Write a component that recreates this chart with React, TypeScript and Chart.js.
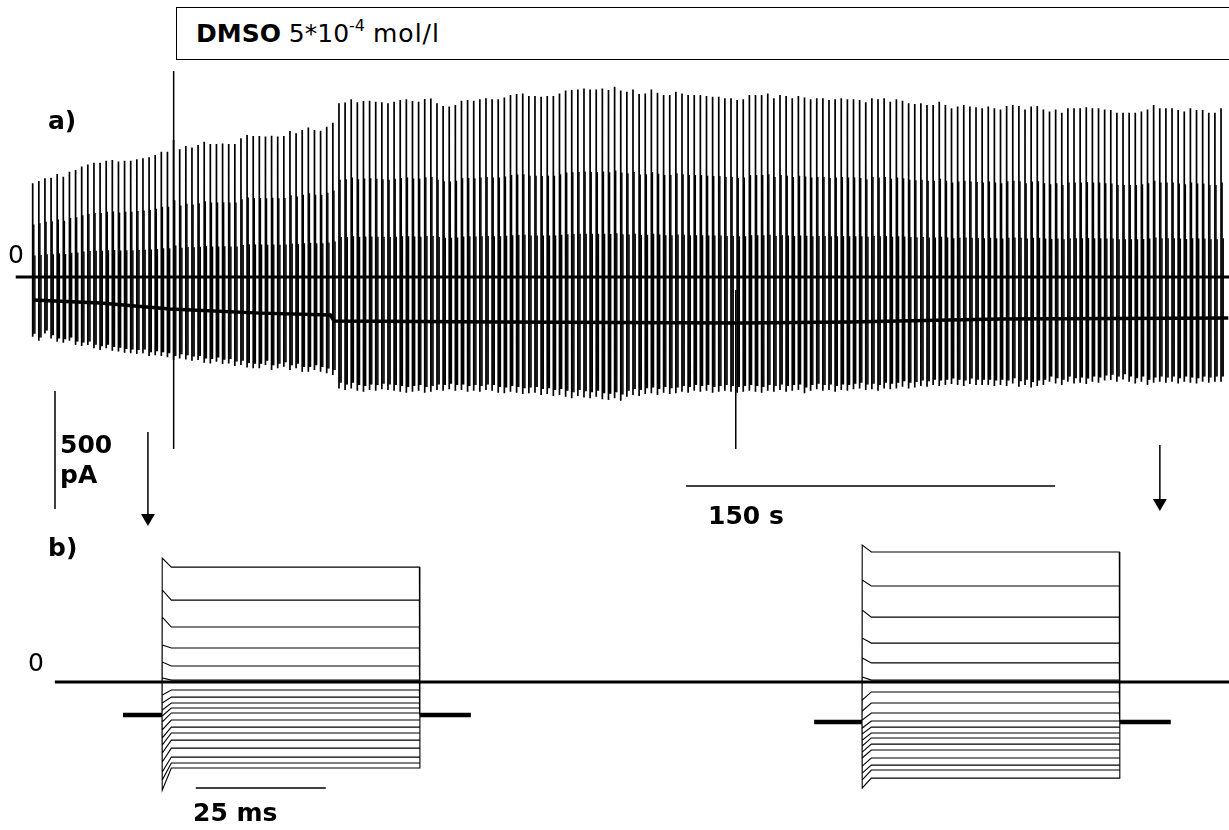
import React, { useEffect, useRef } from "react";
import { Chart, registerables } from "chart.js";

Chart.register(...registerables);

// ---------------- Panel a: consecutive episodes (current in pA, time in s) ----------------
const episodePeriodS = 2.49;
const episodeTopPA = [
  397, 407, 418, 421, 436, 425, 446, 453, 468, 477,
  484, 484, 493, 496, 489, 493, 493, 499, 503, 507,
  517, 531, 531, 581, 541, 555, 549, 559, 573, 564,
  564, 566, 564, 564, 588, 602, 597, 597,
  595, 599, 595, 597, 619, 609, 623, 633, 623, 620,
  637, 654, 736, 739, 753, 740, 746, 747, 743, 740,
  736, 743, 750, 753, 746, 743, 754, 756, 736, 725,
  722, 729, 747, 750, 747, 753, 757, 753, 753, 761,
  771, 775, 778, 767, 767, 764, 767, 767, 778, 790,
  792, 795, 799, 795, 795, 799, 792, 806, 790, 785,
  795, 775, 778, 795, 781, 771, 771, 785, 778, 771,
  771, 771, 767, 764, 764, 757, 757, 750, 753, 771,
  771, 771, 778, 757, 771, 767, 757, 767, 761, 753,
  757, 757, 750, 753, 757, 753, 753, 750, 740, 757,
  753, 757, 743, 753, 747, 736, 733, 736, 729, 729,
  743, 729, 715, 722, 729, 722, 719, 715,
  722, 715, 710, 725, 729, 725, 710, 722, 725, 710,
  701, 710, 696, 715, 715, 715, 719, 715, 715, 710,
  708, 696, 696, 696, 696, 701, 710, 729, 715, 715,
  715, 708, 701, 715, 708, 708, 696, 696, 715,
];
const episodeBottomPA = [
  -253, -270, -239, -260, -274, -278, -270, -288, -292, -288,
  -302, -309, -302, -312, -316, -321, -323, -326, -323, -335,
  -331, -335, -340, -352, -345, -349, -355, -352, -363, -366,
  -359, -369, -366, -377, -373, -383, -387, -387,
  -373, -394, -387, -380, -394, -387, -401, -401, -394, -401,
  -408, -415, -472, -479, -472, -482, -486, -479, -482, -476,
  -479, -482, -486, -490, -486, -482, -490, -486, -479, -482,
  -476, -482, -479, -486, -482, -486, -479, -482, -490, -493,
  -486, -490, -496, -493, -490, -500, -496, -504, -500, -507,
  -514, -504, -510, -514, -507, -518, -521, -514, -524, -507,
  -500, -504, -496, -493, -500, -490, -496, -493, -486, -490,
  -482, -486, -482, -490, -486, -482, -486, -490, -486, -482,
  -486, -490, -482, -486, -479, -486, -482, -479, -493, -482,
  -476, -482, -479, -486, -479, -482, -476, -472, -479, -476,
  -482, -472, -476, -472, -465, -472, -468, -462, -465, -458,
  -462, -458, -453, -458, -462, -453, -458, -458,
  -458, -462, -458, -462, -451, -465, -458, -468, -462, -458,
  -444, -451, -458, -444, -451, -448, -453, -444, -448, -439,
  -436, -444, -434, -444, -451, -444, -458, -448, -444, -448,
  -444, -451, -444, -448, -451, -444, -448, -444, -444,
];
// intermediate step levels inside each episode (fraction of the episode's top / bottom current)
const innerStepFractions = [0.56, 0.23];
const innerBottomFraction = 0.95;
// holding current trace
const holdingTimeS = [0, 27.4, 55.8, 92.5, 121, 122.5, 190, 287.5, 332, 393, 486];
const holdingPA = [-97, -110, -136, -153, -161, -186, -191, -195, -191, -178, -174];
// event markers
const markerTimesS = [57.3, 285.8];
const markerTopPA = [873, -55];
const markerBottomPA = -729;
// scale bars panel a
const pAScaleBar = { t: 9.07, from: -483, to: -983 }; // 500 pA
const sScaleBar = { from: 265.6, to: 415.6, y: -886 }; // 150 s

// ---------------- Panel b: current families (ms, pA) ----------------
const stepDurationMs = 49.5;
const leftHoldPA = -140;
const leftPreMs = -7.5;
const leftPostMs = 59.4;
const leftPeakPA = [525, 390, 275, 157, 85, 17, -55, -89, -119, -144, -169, -203, -237, -267, -301, -339, -381, -415, -458];
const leftPlateauPA = [487, 347, 233, 144, 68, 8, -34, -64, -89, -110, -131, -161, -191, -216, -246, -280, -318, -343, -364];
const rightHoldPA = -169;
const rightPreMs = -9.2;
const rightPostMs = 59.4;
const rightPeakPA = [580, 432, 305, 186, 102, 21, -76, -123, -161, -195, -220, -246, -271, -297, -322, -356, -386, -415, -449];
const rightPlateauPA = [551, 407, 275, 165, 81, 8, -42, -89, -131, -165, -191, -216, -237, -263, -288, -322, -352, -373, -407];
const msScaleBar = { from: 6.5, to: 31.5, y: -449 }; // 25 ms
const leftArrow = { t: -2.7, from: 1059, to: 665 };
const rightArrow = { t: 57.3, from: 1004, to: 729 };

const FONT = '"DejaVu Sans", Verdana, sans-serif';
const W = 1229;
const H = 830;

type P = { x: number; y: number | null };

function seg(x1: number, y1: number, x2: number, y2: number): P[] {
  return [
    { x: x1, y: y1 },
    { x: x2, y: y2 },
    { x: x2, y: null },
  ];
}

function lineDs(data: P[], xAxisID: string, yAxisID: string, width: number, extra: any = {}) {
  return {
    type: "line" as const,
    data,
    xAxisID,
    yAxisID,
    borderColor: "#000",
    backgroundColor: "#000",
    borderWidth: width,
    pointRadius: 0,
    spanGaps: false,
    tension: 0,
    fill: false,
    ...extra,
  };
}

function buildDatasets() {
  const ds: any[] = [];
  // Panel a spikes
  const spikes: P[] = [];
  episodeTopPA.forEach((top, i) => {
    const t = i * episodePeriodS;
    spikes.push(...seg(t, top, t, episodeBottomPA[i]));
  });
  ds.push(lineDs(spikes, "xA", "yA", 1.7));
  innerStepFractions.forEach((f, k) => {
    const inner: P[] = [];
    episodeTopPA.forEach((top, i) => {
      const t = i * episodePeriodS + 0.45 * (k + 1);
      inner.push(...seg(t, top * f, t, episodeBottomPA[i] * innerBottomFraction));
    });
    ds.push(lineDs(inner, "xA", "yA", 1.4));
  });
  // holding current
  ds.push(
    lineDs(
      holdingTimeS.map((t, i) => ({ x: t, y: holdingPA[i] })),
      "xA",
      "yA",
      3.5
    )
  );
  // zero line a
  ds.push(lineDs(seg(-6.9, 0, 490, 0), "xA", "yA", 3));
  // markers
  const mk: P[] = [];
  markerTimesS.forEach((t, i) => mk.push(...seg(t, markerTopPA[i], t, markerBottomPA)));
  ds.push(lineDs(mk, "xA", "yA", 1.5));
  // scale bars a
  ds.push(lineDs(seg(pAScaleBar.t, pAScaleBar.from, pAScaleBar.t, pAScaleBar.to), "xA", "yA", 1.5));
  ds.push(lineDs(seg(sScaleBar.from, sScaleBar.y, sScaleBar.to, sScaleBar.y), "xA", "yA", 1.5));

  // Panel b
  const fam = (
    xId: string,
    hold: number,
    pre: number,
    post: number,
    peaks: number[],
    plats: number[]
  ) => {
    const tr: P[] = [];
    peaks.forEach((pk, i) => {
      tr.push(
        { x: 0, y: hold },
        { x: 0.05, y: pk },
        { x: 1.8, y: plats[i] },
        { x: stepDurationMs, y: plats[i] },
        { x: stepDurationMs + 0.1, y: hold },
        { x: stepDurationMs + 0.1, y: null }
      );
    });
    ds.push(lineDs(tr, xId, "yB", 1.1));
    const h: P[] = [...seg(pre, hold, 0, hold), ...seg(stepDurationMs + 0.1, hold, post, hold)];
    ds.push(lineDs(h, xId, "yB", 4.5));
  };
  fam("xB1", leftHoldPA, leftPreMs, leftPostMs, leftPeakPA, leftPlateauPA);
  fam("xB2", rightHoldPA, rightPreMs, rightPostMs, rightPeakPA, rightPlateauPA);
  // zero line b
  ds.push(lineDs(seg(-20.6, 0, 210, 0), "xB1", "yB", 3));
  // 25 ms bar
  ds.push(lineDs(seg(msScaleBar.from, msScaleBar.y, msScaleBar.to, msScaleBar.y), "xB1", "yB", 1.5));
  // arrows
  const arrow = (xId: string, a: { t: number; from: number; to: number }) => {
    ds.push(lineDs(seg(a.t, a.from, a.t, a.to + 30), xId, "yB", 1.5));
    ds.push(
      lineDs([{ x: a.t, y: a.to + 30 }], xId, "yB", 1, {
        pointRadius: 8,
        pointStyle: "triangle",
        rotation: 180,
        pointBorderWidth: 0,
        showLine: false,
      })
    );
  };
  arrow("xB1", leftArrow);
  arrow("xB2", rightArrow);
  return ds;
}

function lin(axis: "x" | "y", min: number, max: number) {
  return { type: "linear" as const, axis, display: false, min, max };
}

function Label(props: { x: number; y: number; bold?: boolean; size?: number; children: any }) {
  return (
    <div
      style={{
        position: "absolute",
        left: props.x,
        top: props.y,
        fontFamily: FONT,
        fontSize: props.size ?? 25,
        fontWeight: props.bold ? "bold" : "normal",
        lineHeight: 1,
        whiteSpace: "nowrap",
        color: "#000",
      }}
    >
      {props.children}
    </div>
  );
}

export default function App() {
  const ref = useRef<HTMLCanvasElement>(null);
  useEffect(() => {
    if (!ref.current) return;
    const chart = new Chart(ref.current, {
      type: "line",
      data: { datasets: buildDatasets() },
      options: {
        responsive: false,
        animation: false,
        devicePixelRatio: 1,
        events: [],
        layout: { padding: 0, autoPadding: false },
        plugins: { legend: { display: false }, tooltip: { enabled: false } },
        scales: {
          xA: lin("x", -13.29, 486.3),
          yA: lin("y", -2343, 1173.7),
          xB1: lin("x", -31.15, 205.2),
          xB2: lin("x", -165.8, 70.6),
          yB: lin("y", -627, 2890),
        },
      },
    });
    return () => chart.destroy();
  }, []);

  return (
    <div style={{ position: "fixed", left: 0, top: 0, width: W, height: H, background: "#fff", overflow: "hidden" }}>
      <canvas ref={ref} width={W} height={H} style={{ position: "absolute", left: 0, top: 0 }} />
      <div
        style={{
          position: "absolute",
          left: 176,
          top: 7,
          width: W - 176 + 4,
          height: 53,
          border: "1.5px solid #000",
          boxSizing: "border-box",
          background: "#fff",
          paddingLeft: 19,
          paddingTop: 13,
          fontFamily: FONT,
          fontSize: 25,
          lineHeight: 1,
          whiteSpace: "nowrap",
        }}
      >
        <span>
          <b>DMSO</b> 5*10
          <span style={{ fontSize: 16, position: "relative", top: -11 }}>-4</span>
          <span style={{ marginLeft: 8, letterSpacing: 1 }}>mol/l</span>
        </span>
      </div>
      <Label x={48} y={108} bold>a)</Label>
      <Label x={48} y={535} bold>b)</Label>
      <Label x={8} y={242}>0</Label>
      <Label x={28} y={650}>0</Label>
      <Label x={60} y={432} bold>500</Label>
      <Label x={60} y={462} bold>pA</Label>
      <Label x={708} y={503} bold>150 s</Label>
      <Label x={193} y={800} bold>25 ms</Label>
    </div>
  );
}
